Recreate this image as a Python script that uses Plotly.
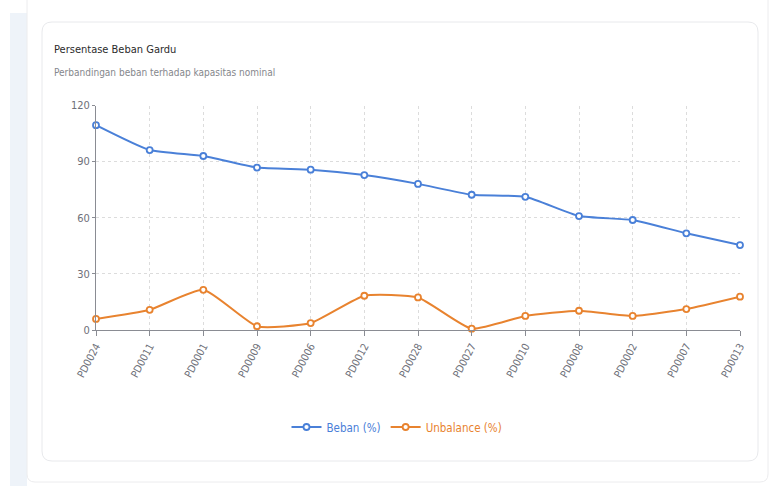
import plotly.graph_objects as go

W, H = 774, 486

categories = ["PD0024", "PD0011", "PD0001", "PD0009", "PD0006", "PD0012", "PD0028",
              "PD0027", "PD0010", "PD0008", "PD0002", "PD0007", "PD0013"]
beban = [109.5, 96.2, 93.0, 86.8, 85.7, 82.8, 78.1, 72.3, 71.2, 60.9, 58.8, 51.7, 45.4]
unbalance = [5.9, 10.8, 21.5, 2.0, 3.7, 18.3, 17.4, 0.7, 7.5, 10.3, 7.5, 11.2, 17.8]
y_ticks = [0, 30, 60, 90, 120]

BLUE = "#4a80d8"
ORANGE = "#e8832f"
FONT = "DejaVu Sans Condensed, Roboto, sans-serif"


def px(x):
    return x / W


def py(y):
    return 1 - y / H


def rrect(x0, y0, x1, y1, r):
    X0, X1 = px(x0), px(x1)
    Y0, Y1 = py(y0), py(y1)
    rx, ry = r / W, r / H
    return (f"M{X0+rx},{Y0} L{X1-rx},{Y0} Q{X1},{Y0} {X1},{Y0-ry} "
            f"L{X1},{Y1+ry} Q{X1},{Y1} {X1-rx},{Y1} L{X0+rx},{Y1} "
            f"Q{X0},{Y1} {X0},{Y1+ry} L{X0},{Y0-ry} Q{X0},{Y0} {X0+rx},{Y0} Z")


fig = go.Figure()
fig.add_trace(go.Scatter(
    x=categories, y=beban, mode="lines+markers",
    name=f"<span style='color:{BLUE}'>Beban (%)</span>",
    line=dict(color=BLUE, width=2, shape="spline", smoothing=0.5),
    marker=dict(symbol="circle", size=6, color="white", line=dict(color=BLUE, width=1.8)),
    cliponaxis=False,
))
fig.add_trace(go.Scatter(
    x=categories, y=unbalance, mode="lines+markers",
    name=f"<span style='color:{ORANGE}'>Unbalance (%)</span>",
    line=dict(color=ORANGE, width=2, shape="spline", smoothing=0.5),
    marker=dict(symbol="circle", size=6, color="white", line=dict(color=ORANGE, width=1.8)),
    cliponaxis=False,
))

shapes = [
    dict(type="rect", xref="paper", yref="paper", x0=px(10), x1=px(27), y0=py(486), y1=py(13),
         fillcolor="#eef3f9", line=dict(width=0), layer="below"),
    dict(type="path", xref="paper", yref="paper", path=rrect(27, -20, 768, 482, 8),
         fillcolor="white", line=dict(color="#ececee", width=1), layer="below"),
    dict(type="path", xref="paper", yref="paper", path=rrect(42, 22, 758, 461, 10),
         fillcolor="white", line=dict(color="#e8e9ec", width=1), layer="below"),
]

fig.update_layout(
    width=W, height=H,
    margin=dict(l=0, r=0, t=0, b=0, autoexpand=False),
    paper_bgcolor="white", plot_bgcolor="rgba(0,0,0,0)",
    font=dict(family=FONT, size=11, color="#6e7079"),
    shapes=shapes,
    showlegend=True,
    legend=dict(orientation="h", x=px(397), y=py(427), xanchor="center", yanchor="middle",
                font=dict(family=FONT, size=11.5), itemwidth=30, bgcolor="rgba(0,0,0,0)"),
    xaxis=dict(domain=[px(96), px(740)], range=[0, 12], type="category", automargin=False,
               tickangle=-62, showgrid=True, gridcolor="#dcdcdc", griddash="dot",
               showline=True, linecolor="#8a8c93", linewidth=1,
               ticks="outside", ticklen=5, tickcolor="#8a8c93",
               tickfont=dict(size=10.5, color="#6e7079"), zeroline=False),
    yaxis=dict(domain=[py(330), py(105.5)], range=[0, 120], tickvals=y_ticks, automargin=False,
               showgrid=True, gridcolor="#dcdcdc", griddash="dot",
               showline=True, linecolor="#8a8c93", linewidth=1,
               ticks="outside", ticklen=3, tickcolor="#8a8c93",
               tickfont=dict(size=11, color="#6e7079"), zeroline=False),
    annotations=[
        dict(text="Persentase Beban Gardu", xref="paper", yref="paper", x=px(52), y=py(50),
             xanchor="left", yanchor="middle", showarrow=False,
             font=dict(family=FONT, size=11, color="#2b2b2b")),
        dict(text="Perbandingan beban terhadap kapasitas nominal", xref="paper", yref="paper",
             x=px(52), y=py(72), xanchor="left", yanchor="middle", showarrow=False,
             font=dict(family=FONT, size=10, color="#85878c")),
    ],
)

fig.write_html("out.html")
